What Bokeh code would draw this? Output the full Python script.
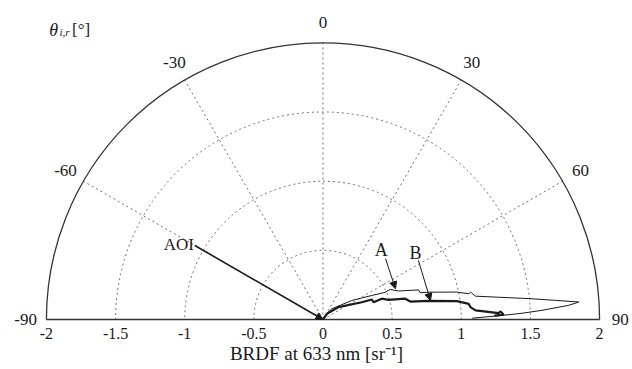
import numpy as np
from bokeh.plotting import figure
from bokeh.models import Range1d, FixedTicker, Arrow, NormalHead
from bokeh.core.properties import value
from bokeh.embed import file_html
from bokeh.resources import INLINE

# ---------------- data ----------------
angle_ticks = [-90, -60, -30, 0, 30, 60, 90]
angle_labels = ["-90", "-60", "-30", "0", "30", "60", "90"]
spoke_angles = [-60, -30, 0, 30, 60]
grid_radii = [0.5, 1.0, 1.5]
r_max = 2.0
x_ticks = [-2, -1.5, -1, -0.5, 0, 0.5, 1, 1.5, 2]
x_tick_labels = ["-2", "-1.5", "-1", "-0.5", "0", "0.5", "1", "1.5", "2"]

aoi_angle = -60.0      # angle of incidence [deg]
aoi_length = 1.07

# curve A (thin): scattering angle [deg] and BRDF [1/sr]
theta_A = [0, 30, 39.4, 56.6, 63.8, 66.4, 65.9, 69.3, 72.8, 74.6, 75.5, 78.4,
           80.0, 79.5, 81.3, 82.8, 84.2, 85.3, 86.1, 86.7, 87.6, 88.2, 88.7, 89.5]
brdf_A = [0.0, 0.04, 0.100, 0.249, 0.393, 0.491, 0.532, 0.583, 0.723, 0.729, 0.788, 0.986,
          1.071, 1.085, 1.115, 1.282, 1.496, 1.687, 1.854, 1.780, 1.586, 1.441, 1.296, 1.079]

# curve B (thick)
theta_B = [0, 35, 51.5, 66.0, 67.7, 71.1, 70.5, 73.3, 75.8, 78.4, 80.0, 82.2,
           83.9, 85.2, 86.6, 87.9, 87.4, 88.5, 88.7]
brdf_B = [0.0, 0.05, 0.143, 0.307, 0.381, 0.386, 0.451, 0.495, 0.613, 0.644, 0.775, 0.978,
          1.060, 1.070, 1.105, 1.272, 1.285, 1.307, 1.240]

# ---------------- helpers ----------------
def to_xy(theta_deg, r):
    t = np.radians(np.asarray(theta_deg, dtype=float))
    r = np.asarray(r, dtype=float)
    return r * np.sin(t), r * np.cos(t)

SERIF = value("Liberation Serif")
INK = "#1a1a1a"
GRID = "#6e6e6e"

p = figure(width=632, height=369,
           x_range=Range1d(-2.332, 2.238), y_range=Range1d(-0.058, 2.307),
           output_backend="svg", toolbar_location=None, y_axis_location=None,
           min_border_left=0, min_border_right=0, min_border_top=0, min_border_bottom=42)
p.outline_line_color = None
p.grid.visible = False
p.background_fill_color = "white"

# x axis (tick labels + label)
ax = p.xaxis[0]
ax.ticker = FixedTicker(ticks=x_ticks)
ax.major_label_overrides = {t: l for t, l in zip(x_ticks, x_tick_labels)}
ax.axis_line_color = None
ax.major_tick_line_color = None
ax.minor_tick_line_color = None
ax.major_tick_out = 0
ax.major_tick_in = 0
ax.major_label_standoff = 0
ax.major_label_text_font = "Liberation Serif"
ax.major_label_text_font_size = "16px"
ax.major_label_text_color = INK
ax.axis_label = "BRDF at 633 nm [sr\u207b\u00b9]"
ax.axis_label_text_font = "Liberation Serif"
ax.axis_label_text_font_size = "19px"
ax.axis_label_text_font_style = "normal"
ax.axis_label_text_color = INK
ax.axis_label_standoff = 1

# dotted grid circles and spokes
for rg in grid_radii:
    p.arc(x=0, y=0, radius=rg, start_angle=0, end_angle=np.pi,
          line_color=GRID, line_width=1, line_dash="2 3")
sx, sy = to_xy(spoke_angles, [r_max] * len(spoke_angles))
p.segment(x0=[0] * len(spoke_angles), y0=[0] * len(spoke_angles), x1=sx, y1=sy,
          line_color=GRID, line_width=1, line_dash="2 3")

# outer boundary and baseline
p.arc(x=0, y=0, radius=r_max, start_angle=0, end_angle=np.pi, line_color="#333333", line_width=1.3)
p.line(x=[x_ticks[0], x_ticks[-1]], y=[0, 0], line_color="#333333", line_width=1.3)

# angle labels
lx, ly = to_xy(angle_ticks, [r_max * 1.075] * len(angle_ticks))
p.text(x=lx, y=ly, text=angle_labels, text_font=SERIF, text_font_size="17px",
       text_align="center", text_baseline="middle", text_color=INK)

# theta_{i,r} [deg] label
p.text(x=[-1.98], y=[2.097], text=["\u03b8"], text_font=SERIF, text_font_size="18px",
       text_font_style="italic", text_align="left", text_baseline="middle", text_color=INK)
p.text(x=[-1.905], y=[2.082], text=["i,r"], text_font=SERIF, text_font_size="11px",
       text_font_style="italic", text_align="left", text_baseline="middle", text_color=INK)
p.text(x=[-1.815], y=[2.097], text=["[\u00b0]"], text_font=SERIF, text_font_size="17px",
       text_align="left", text_baseline="middle", text_color=INK)

# curves
ax_, ay_ = to_xy(theta_A, brdf_A)
p.line(ax_, ay_, line_color=INK, line_width=1.0)
bx_, by_ = to_xy(theta_B, brdf_B)
p.line(bx_, by_, line_color=INK, line_width=2.2)

# AOI arrow
aoi_x, aoi_y = to_xy([aoi_angle], [aoi_length])
p.add_layout(Arrow(x_start=aoi_x[0], y_start=aoi_y[0], x_end=0, y_end=0,
                   line_color=INK, line_width=1.6,
                   end=NormalHead(size=7, fill_color=INK, line_color=INK)))
p.text(x=[aoi_x[0]], y=[aoi_y[0]], text=["AOI"], text_font=SERIF, text_font_size="17px",
       text_align="right", text_baseline="alphabetic", text_color=INK, x_offset=-1, y_offset=-1)

# A / B pointers
p.add_layout(Arrow(x_start=0.452, y_start=0.441, x_end=0.524, y_end=0.222,
                   line_color=INK, line_width=1.0,
                   end=NormalHead(size=7, fill_color=INK, line_color=INK)))
p.add_layout(Arrow(x_start=0.690, y_start=0.427, x_end=0.777, y_end=0.137,
                   line_color=INK, line_width=1.0,
                   end=NormalHead(size=7, fill_color=INK, line_color=INK)))
p.text(x=[0.421, 0.669], y=[0.506, 0.484], text=["A", "B"], text_font=SERIF, text_font_size="18px",
       text_align="center", text_baseline="middle", text_color=INK)

open("out.html", "w").write(file_html(p, INLINE))
